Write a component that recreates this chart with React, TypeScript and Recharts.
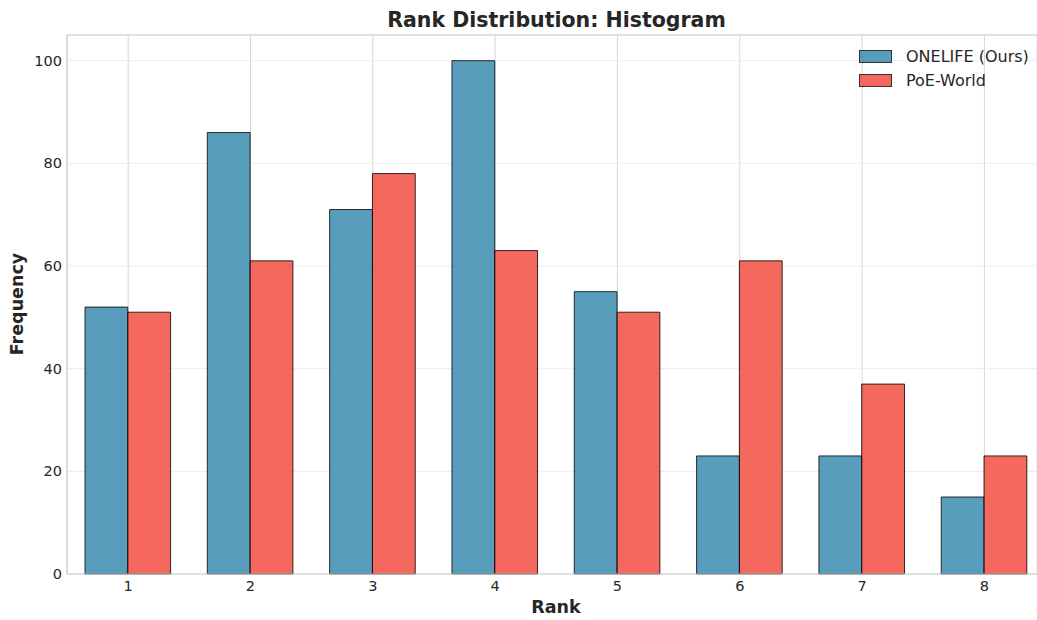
import { Bar, BarChart, CartesianGrid, ReferenceLine, XAxis, YAxis } from 'recharts';

const ranks = [1, 2, 3, 4, 5, 6, 7, 8];
const onelife = [52, 86, 71, 100, 55, 23, 23, 15];
const poeWorld = [51, 61, 78, 63, 51, 61, 37, 23];
const yTicks = [0, 20, 40, 60, 80, 100];

const series = [
  { key: 'onelife', name: 'ONELIFE (Ours)', color: '#2E86AB' },
  { key: 'poeWorld', name: 'PoE-World', color: '#F24236' },
];

const data = ranks.map((rank, i) => ({ rank, onelife: onelife[i], poeWorld: poeWorld[i] }));

const font = '"DejaVu Sans", sans-serif';
const tickStyle = { fontSize: 14.5, fill: '#262626', fontFamily: font };

function HistLegend() {
  return (
    <div style={{ position: 'absolute', left: 859, top: 45, fontFamily: font, fontSize: 16, color: '#262626' }}>
      {series.map((s) => (
        <div key={s.key} style={{ display: 'flex', alignItems: 'center', height: 23.5 }}>
          <span
            style={{
              display: 'inline-block',
              width: 33,
              height: 13,
              background: s.color,
              opacity: 0.8,
              border: '1px solid #000',
              boxSizing: 'border-box',
              marginRight: 14,
            }}
          />
          <span>{s.name}</span>
        </div>
      ))}
    </div>
  );
}

export default function App() {
  return (
    <div style={{ position: 'absolute', left: 0, top: 0, width: 1037, height: 620, background: '#fff', fontFamily: font }}>
      <div
        style={{
          position: 'absolute', left: 0, top: 9.7, width: 1113, textAlign: 'center',
          fontSize: 20.5, lineHeight: 1, fontWeight: 'bold', color: '#262626',
        }}
      >
        Rank Distribution: Histogram
      </div>
      <BarChart width={1037} height={620} data={data} margin={{ top: 35, right: 0, bottom: 0, left: 0 }} barGap={0} barSize={42.8}>
        <CartesianGrid horizontal={false} stroke="#d6d6d6" strokeWidth={1} />
        <CartesianGrid vertical={false} stroke="#ececec" strokeWidth={1} />
        <XAxis
          dataKey="rank"
          type="number"
          domain={[0.5, 8.43]}
          ticks={ranks}
          allowDataOverflow
          height={46}
          tickSize={0}
          tickMargin={7}
          fontSize={14.5}
          axisLine={{ stroke: '#cccccc' }}
          tick={tickStyle}
        />
        <YAxis
          domain={[0, 105]}
          ticks={yTicks}
          width={67}
          tickSize={0}
          tickMargin={5}
          fontSize={14.5}
          axisLine={{ stroke: '#cccccc' }}
          tick={tickStyle}
        />
        <ReferenceLine y={105} stroke="#cccccc" />
        {series.map((s) => (
          <Bar
            key={s.key}
            dataKey={s.key}
            name={s.name}
            fill={s.color}
            fillOpacity={0.8}
            stroke="#000"
            strokeOpacity={0.8}
            strokeWidth={1}
            isAnimationActive={false}
          />
        ))}
      </BarChart>
      <HistLegend />
      <div
        style={{
          position: 'absolute', left: 0, top: 599, width: 1112, textAlign: 'center',
          fontSize: 17.5, lineHeight: 1, fontWeight: 'bold', color: '#262626',
        }}
      >
        Rank
      </div>
      <div
        style={{
          position: 'absolute', left: 17.5, top: 304, transform: 'translate(-50%, -50%) rotate(-90deg)',
          fontSize: 17.5, lineHeight: 1, fontWeight: 'bold', color: '#262626', whiteSpace: 'nowrap',
        }}
      >
        Frequency
      </div>
    </div>
  );
}
